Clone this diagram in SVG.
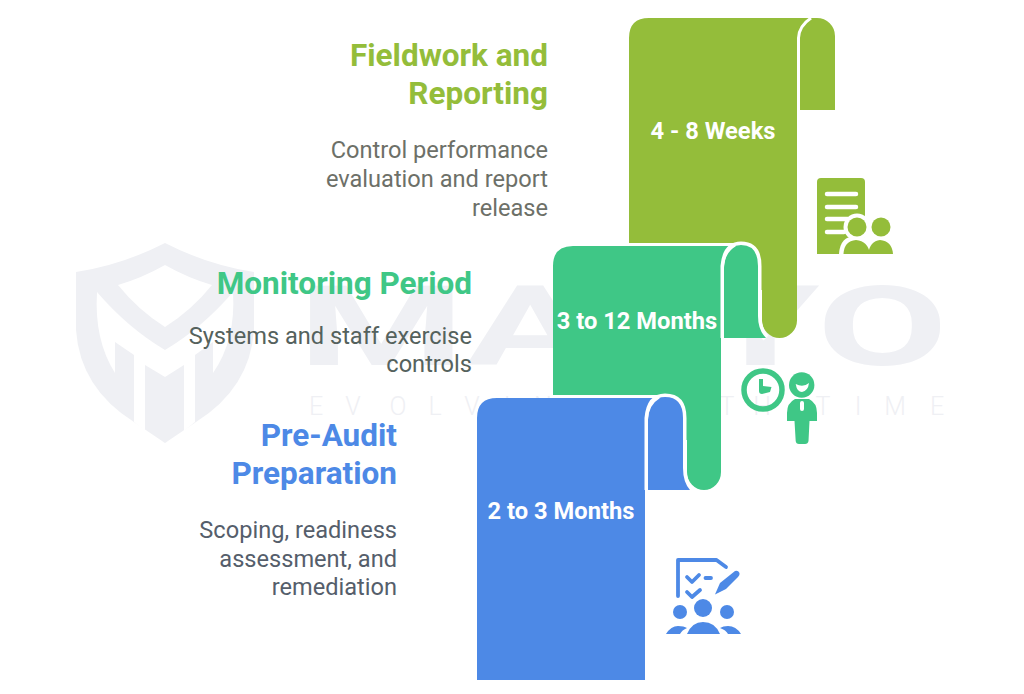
<svg xmlns="http://www.w3.org/2000/svg" width="1024" height="694" viewBox="0 0 1024 694">
<style>
text{font-family:Roboto,"Liberation Sans",sans-serif}
.h{font-size:31.500px;font-weight:700;text-anchor:end}
.d{font-size:23.600px;font-weight:400;text-anchor:end}
.t{font-size:23.700px;font-weight:700;fill:#fff;text-anchor:middle}
.lime{fill:#94bd3a}.green{fill:#3fc786}.blue{fill:#4d89e6}
.wm{fill:#eff0f4}
.gap{fill:none;stroke:#fff;stroke-width:3}
.curlback{fill:none;stroke:#fff;stroke-width:7}
</style>
<rect width="1024" height="694" fill="#fff"/>
<g id="watermark">
<path class="wm" d="M165 243Q122 265 76 272V330Q80 388 134 422L165 443L196 422Q250 388 254 330V272Q208 265 165 243Z"/>
<path fill="#fff" d="M165 265Q142 278 118 285Q138 310 165 327Q192 310 212 285Q188 278 165 265Z"/>
<path fill="#fff" d="M97 292Q128 328 165 350Q202 328 233 292Q236 340 213 373V342L195 355V422L184 431V365L165 377L145 365V431L134 422V355L115 342V373Q94 340 97 292Z"/>
<text class="wm" x="298" y="365" font-size="111" font-weight="700" textLength="650" lengthAdjust="spacingAndGlyphs">MAYYO</text>
<text class="wm" y="415" font-size="25" font-weight="300" text-anchor="middle" x="316 353 398 435 472 507 543 585 620 660 697 727 762 795 823 858 895 937">EVOLVING WITH TIME</text>
</g>
<g id="fieldwork">
<path class="lime" d="M649 18H817A18 18 0 0 1 835 36V110H797V320.500A17.500 17.500 0 0 1 762 320.500V290H740V246H629V38Q629 18 649 18Z"/>
<path class="gap" d="M798.500 112V38Q799 26 811 18"/>
<text class="t" x="713" y="138.700">4 - 8 Weeks</text>
<text class="h" x="548" y="65.700" fill="#94bd3a">Fieldwork and</text>
<text class="h" x="548" y="103.700" fill="#94bd3a">Reporting</text>
<text class="d" x="548" y="157.700" fill="#6d7068">Control performance</text>
<text class="d" x="548" y="186.700" fill="#6d7068">evaluation and report</text>
<text class="d" x="548" y="215.700" fill="#6d7068">release</text>
<g id="icon-fieldwork" class="lime">
<path d="M821 178H861Q865 178 865 182V254H817V182Q817 178 821 178Z"/>
<path d="M827 194H856M827 207H856M827 219H848M827 232H844" fill="none" stroke="#fff" stroke-width="4.500" stroke-linecap="round"/>
<circle cx="857" cy="227" r="13.500" fill="#fff"/>
<path d="M839 254Q840 236 856 236Q872 236 874 254Z" fill="#fff"/>
<circle cx="857" cy="227" r="9.500"/>
<path d="M843.500 254Q844 241 856 240Q868 241 870 254Z"/>
<circle cx="881" cy="227" r="9.500"/>
<path d="M868 254Q870 241 880 240Q892 241 893 254Z"/>
</g>
</g>
<g id="monitoring">
<path class="green" d="M573 246H735V338H721V472A17 18 0 0 1 687 472V440H665V398H553V266Q553 246 573 246Z"/>
<path fill="none" stroke="#fff" stroke-width="3" d="M629 244.500H741"/>
<path class="curlback" d="M724 338V266Q726 245 741 245Q758 245 758 266V316Q758 330 766 338"/>
<path class="green" d="M724 338V266Q726 245 741 245Q758 245 758 266V316Q758 330 766 338Z"/>
<path class="gap" d="M722.500 338V268Q723 252 735 245"/>
<text class="t" x="637" y="328.700">3 to 12 Months</text>
<text class="h" x="472" y="293.700" fill="#3fc786">Monitoring Period</text>
<text class="d" x="472" y="343.700" fill="#55625d">Systems and staff exercise</text>
<text class="d" x="472" y="371.700" fill="#55625d">controls</text>
<g id="icon-monitoring" class="green">
<circle cx="763" cy="390" r="19" fill="none" stroke="#3fc786" stroke-width="5.500"/>
<path d="M759 379H763V386L771.500 387L770 392L762 394Q759 394 759 391Z"/>
<circle cx="801.700" cy="385" r="12.700"/>
<path d="M795.700 384Q803 388 809 383Q808 391 802 392Q797 392 795.700 384Z" fill="#fff"/>
<path d="M795 399H809Q817 403 817 413V421H809.500L808.500 441Q808 444 805 444H799Q796 444 795.700 441L794.500 421H787V413Q787 403 795 399Z"/>
<rect x="800" y="401" width="4" height="10" rx="2" fill="#fff"/>
</g>
</g>
<g id="preaudit">
<path class="blue" d="M497 398H660V490H645V680H477V418Q477 398 497 398Z"/>
<path fill="none" stroke="#fff" stroke-width="3" d="M553 396.500H665"/>
<path class="curlback" d="M648 490V418Q650 397 665 397Q683 397 683 418V468Q683 482 690 490"/>
<path class="blue" d="M648 490V418Q650 397 665 397Q683 397 683 418V468Q683 482 690 490Z"/>
<path class="gap" d="M646.500 490V420Q647 404 659 397"/>
<text class="t" x="561" y="518.700">2 to 3 Months</text>
<text class="h" x="397" y="445.700" fill="#4d89e6">Pre-Audit</text>
<text class="h" x="397" y="483.700" fill="#4d89e6">Preparation</text>
<text class="d" x="397" y="537.700" fill="#555e6b">Scoping, readiness</text>
<text class="d" x="397" y="566.700" fill="#555e6b">assessment, and</text>
<text class="d" x="397" y="594.700" fill="#555e6b">remediation</text>
<g id="icon-preaudit" class="blue">
<path d="M678 596V560H716.500L726 567M687 577L692 582L699 575M705.500 578H711M687 592L692 597L700 590" fill="none" stroke="#4d89e6" stroke-width="3.800" stroke-linecap="round" stroke-linejoin="round"/>
<path d="M715 594.500L720 583L735 571Q738 570 739.500 573Q740 575 738 577L726 589Z"/>
<circle cx="680" cy="612" r="7"/><circle cx="703" cy="608" r="9"/><circle cx="727" cy="612" r="7"/>
<path d="M666 634Q671 626 678 626Q684 626 687 628Q682 630 680 634Z M687 634Q692 622 703 622Q715 622 720 634Z M720 628Q723 626 728 626Q736 626 741 634H728Q726 630 720 628Z"/>
</g>
</g>
</svg>
